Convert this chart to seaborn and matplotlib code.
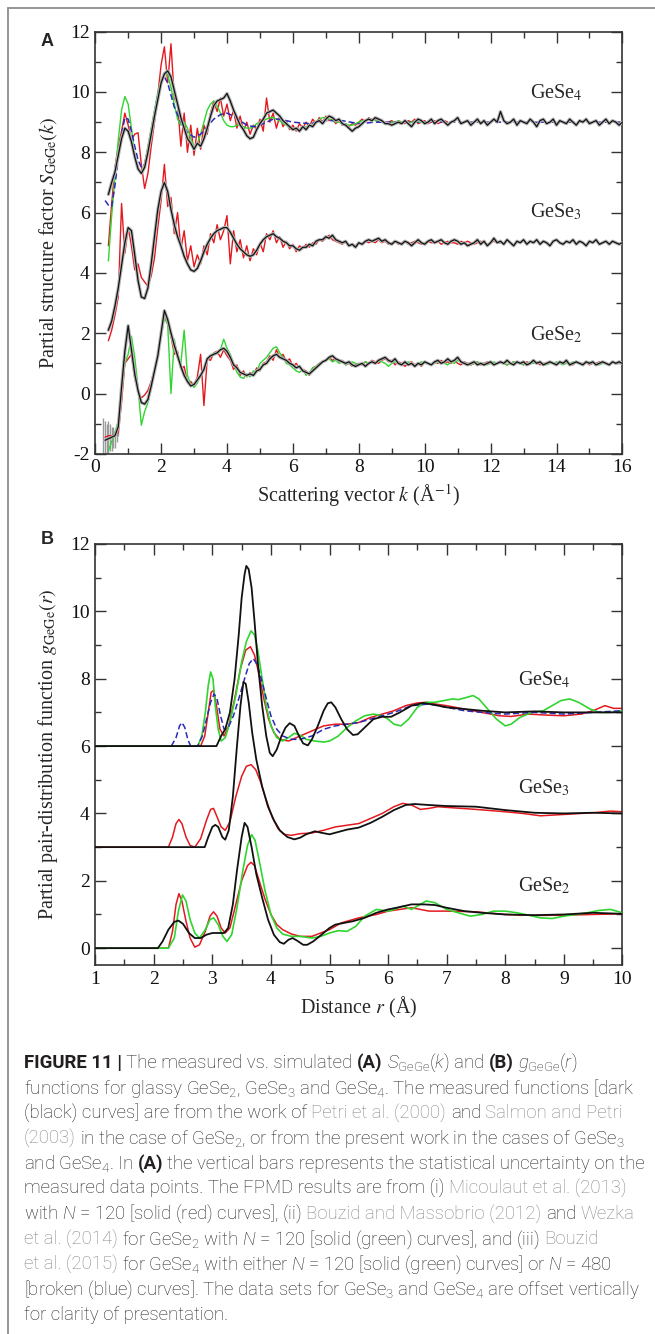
import numpy as np
import matplotlib
matplotlib.use("Agg")
import matplotlib.pyplot as plt
import seaborn as sns
from matplotlib.ticker import MultipleLocator
from matplotlib.lines import Line2D

# ---------------- Panel A : S_GeGe(k), sampled every 0.1 A^-1 ----------------
KSTEP = 0.1
k0_blk4 = 0.4
S_blk4 = [6.6, 7.0, 7.35, 7.9, 8.45, 8.8, 8.7, 8.35, 7.85, 7.45,
          7.3, 7.5, 8.0, 8.6, 9.2, 9.75, 10.3, 10.6, 10.7, 10.5,
          10.05, 9.6, 9.15, 8.8, 8.45, 8.3, 8.1, 8.3, 8.2, 8.45,
          8.8, 9.2, 9.55, 9.7, 9.75, 9.8, 9.95, 9.7, 9.4, 9.15,
          8.9, 8.75, 8.55, 8.45, 8.5, 8.75, 8.95, 9.1, 9.3, 9.35,
          9.4, 9.3, 9.2, 9.05, 8.95, 8.85, 8.75, 8.8, 8.7, 8.85,
          8.75, 8.9, 8.85, 9.0, 9.05, 8.95, 9.1, 9.2, 9.15, 9.05,
          9.1, 8.95, 8.9, 8.8, 8.7, 8.8, 8.85, 8.95, 9.05, 9.1,
          9.05, 9.15, 9.1, 9.05, 8.95, 8.95, 8.9, 8.95, 9.0, 8.95,
          9.05, 8.95, 8.85, 9.0, 9.1, 9.05, 8.95, 9.0, 9.1, 8.95,
          9.05, 9.1, 9.0, 8.9, 9.0, 9.05, 9.15, 8.95, 9.0, 9.05,
          8.9, 9.0, 9.1, 8.95, 9.05, 8.9, 9.0, 9.1, 9.0, 9.35,
          9.05, 8.95, 9.0, 9.1, 8.9, 9.05, 9.0, 8.95, 9.1, 9.0,
          8.85, 9.05, 9.1, 8.95, 9.0, 9.1, 8.9, 9.05, 9.0, 8.95,
          9.1, 9.0, 8.9, 9.05, 9.0, 9.1, 8.95, 9.0, 9.05, 8.9,
          9.0, 9.1, 8.95, 9.05, 9.0, 8.9, 9.0]
k0_red4 = 0.4
S_red4 = [4.9, 6.3, 7.5, 8.2, 8.7, 9.3, 8.9, 8.4, 8.6, 8.65,
          7.6, 6.8, 7.3, 8.2, 9.0, 9.9, 10.9, 11.5, 10.3, 11.6,
          9.8, 9.6, 8.2, 9.3, 8.0, 8.9, 7.9, 8.8, 8.1, 8.9,
          8.6, 9.3, 9.7, 9.35, 9.8, 9.2, 9.6, 9.05, 9.4, 8.8,
          9.2, 8.7, 9.0, 8.6, 8.9, 8.75, 9.1, 8.7, 9.8, 9.0,
          9.3, 8.8, 9.2, 8.85, 9.05, 8.75, 8.9, 8.7, 8.95, 8.8,
          9.0, 8.85, 9.1, 8.95, 9.15, 9.0, 9.2, 9.05, 9.1, 8.95,
          9.05, 8.9, 8.95, 8.85, 8.95, 8.9, 9.0, 9.1, 9.0, 9.15,
          9.05, 9.1, 9.0, 9.05, 8.95, 9.0, 9.05, 8.95, 9.05, 9.0,
          8.95, 9.05, 9.0, 9.1, 8.95, 9.0, 9.05, 8.95, 9.0, 9.05,
          8.95, 9.0, 9.05, 9.0]
k0_grn4 = 0.4
S_grn4 = [4.4, 5.9, 7.2, 8.4, 9.4, 9.85, 9.6, 8.8, 7.95, 7.45,
          7.35, 7.6, 8.2, 8.8, 9.4, 10.0, 10.4, 10.65, 10.55, 10.15,
          9.6, 9.1, 8.9, 9.0, 8.8, 8.45, 8.2, 8.3, 8.6, 9.0,
          9.4, 9.6, 9.7, 9.55, 9.3, 9.05, 8.9, 8.85, 8.85, 8.9,
          8.9, 8.85, 8.8, 8.8, 8.85, 8.95, 9.0, 9.05, 9.1, 9.15,
          9.15, 9.1, 9.05, 8.95, 8.9, 8.8, 8.8, 8.75, 8.75, 8.8,
          8.85, 8.9, 8.95, 9.0, 9.1, 9.15, 9.15, 9.1, 9.05, 9.0,
          9.0, 8.95, 8.95, 8.9, 8.9, 8.95, 9.0, 9.05, 9.05, 9.1,
          9.1, 9.05, 9.05, 9.0, 8.95, 8.95, 9.0, 9.0, 9.05, 9.0,
          9.0, 8.95, 9.0, 9.05, 9.0, 9.0, 9.0]
k_blu4 = [0.3, 0.4, 0.5, 0.6, 0.7, 0.8, 0.9, 1.0, 1.1, 1.2, 1.3, 1.4, 1.5, 1.6,
          1.7, 1.8, 1.9, 2.0, 2.1, 2.2, 2.3, 2.4, 2.6, 2.8, 3.0, 3.2, 3.4, 3.6,
          3.8, 4.0, 4.2, 4.4, 4.6, 4.8, 5.0, 5.2, 5.4, 5.6, 5.8, 6.0, 6.5, 7.0,
          7.5, 8.0, 8.5, 9.0, 10.0, 11.0, 12.0, 13.0, 14.0, 15.0, 16.0]
S_blu4 = [6.4, 6.25, 6.2, 6.9, 7.8, 8.6, 9.15, 9.1, 8.7, 8.2, 7.75, 7.5, 7.6, 8.1,
          8.7, 9.3, 9.9, 10.35, 10.5, 10.3, 9.9, 9.5, 9.0, 8.65, 8.5, 8.6, 8.85, 9.1,
          9.25, 9.3, 9.2, 9.05, 8.9, 8.85, 8.9, 9.0, 9.1, 9.1, 9.05, 9.0, 8.95, 9.05,
          9.05, 8.95, 9.0, 9.0, 9.0, 9.0, 9.0, 9.0, 9.0, 9.0, 9.0]

k0_blk3 = 0.4
S_blk3 = [2.1, 2.4, 2.9, 3.5, 4.25, 5.0, 5.5, 5.4, 4.6, 3.75,
          3.2, 3.15, 3.5, 4.3, 5.2, 6.1, 6.7, 7.0, 6.7, 6.1,
          5.6, 5.2, 4.9, 4.55, 4.3, 4.1, 4.05, 4.15, 4.4, 4.7,
          4.95, 5.15, 5.3, 5.4, 5.45, 5.5, 5.5, 5.35, 5.15, 4.95,
          4.8, 4.7, 4.6, 4.55, 4.6, 4.75, 4.95, 5.1, 5.2, 5.25,
          5.3, 5.2, 5.15, 5.05, 5.0, 4.9, 4.9, 4.8, 4.75, 4.85,
          4.85, 4.95, 4.9, 5.05, 5.1, 5.1, 5.2, 5.15, 5.25, 5.1,
          5.05, 5.0, 5.05, 4.9, 4.95, 4.85, 5.0, 4.95, 5.05, 5.1,
          5.05, 5.1, 5.15, 5.05, 5.1, 5.0, 4.95, 5.05, 5.0, 4.95,
          5.05, 5.0, 4.9, 5.0, 5.1, 5.0, 4.95, 5.05, 5.1, 5.0,
          5.05, 5.1, 5.0, 4.95, 5.05, 5.1, 5.05, 4.95, 5.0, 4.9,
          4.95, 5.0, 5.1, 4.95, 5.05, 4.9, 5.0, 5.15, 5.0, 5.05,
          4.95, 5.1, 5.0, 4.9, 5.05, 5.0, 5.1, 4.95, 5.05, 5.0,
          5.1, 4.95, 5.05, 5.0, 4.9, 5.05, 5.1, 5.0, 4.95, 5.05,
          5.0, 5.1, 4.95, 5.05, 5.0, 4.9, 5.05, 5.0, 5.1, 4.95,
          5.0, 5.05, 4.95, 5.05, 5.0, 4.95, 5.0]
k0_red3 = 0.4
S_red3 = [1.75, 2.1, 2.6, 3.2, 6.3, 4.65, 5.5, 4.9, 4.1, 4.3,
          3.85, 3.7, 3.55, 3.9, 4.5, 5.5, 6.4, 7.6, 6.2, 6.5,
          5.3, 6.0, 4.8, 5.4, 4.4, 4.9, 4.2, 4.6, 4.3, 4.9,
          4.6, 5.3, 5.0, 5.6, 5.1, 5.4, 5.9, 4.3, 5.4, 4.7,
          5.1, 4.5, 4.9, 4.4, 4.8, 4.6, 5.0, 4.7, 5.3, 5.1,
          5.4, 5.0, 5.2, 4.85, 5.05, 4.8, 4.95, 4.7, 4.9, 4.8,
          4.95, 4.85, 5.0, 4.95, 5.1, 5.05, 5.15, 5.25, 5.1, 5.05,
          5.0, 4.95, 5.05, 4.9, 4.95, 4.9, 5.0, 4.95, 5.05, 5.0,
          5.05, 5.0, 5.1, 5.0, 5.05, 4.95, 5.0, 5.05, 4.95, 5.0,
          5.05, 4.95, 5.0, 5.05, 5.0, 4.95, 5.0, 5.05, 5.0, 5.0,
          5.05, 4.95, 5.0, 5.05, 5.0, 5.0, 4.95, 5.05, 5.0, 5.05,
          5.0, 4.95, 5.0, 5.05, 5.0, 4.95, 5.0, 5.05, 5.0, 5.0,
          5.0]

k0_blk2 = 0.3
S_blk2 = [-1.55, -1.5, -1.45, -1.4, -1.1, 0.2, 1.4, 2.25, 1.45, 0.65,
          0.1, -0.3, -0.35, -0.2, 0.25, 0.75, 1.25, 2.0, 2.75, 2.45,
          2.0, 1.6, 1.25, 0.9, 0.6, 0.4, 0.25, 0.3, 0.45, 0.6,
          0.8, 1.15, 1.25, 1.3, 1.35, 1.45, 1.5, 1.4, 1.2, 0.95,
          0.85, 0.7, 0.65, 0.6, 0.65, 0.6, 0.75, 0.8, 0.95, 1.0,
          1.15, 1.25, 1.3, 1.2, 1.15, 1.1, 1.0, 0.95, 0.85, 0.9,
          0.75, 0.7, 0.65, 0.75, 0.85, 0.95, 1.05, 1.1, 1.2, 1.25,
          1.15, 1.1, 1.05, 1.0, 1.05, 0.95, 0.9, 0.95, 1.0, 0.9,
          1.0, 1.05, 1.0, 1.1, 1.15, 1.2, 1.1, 1.05, 1.15, 1.0,
          0.95, 1.05, 0.95, 1.0, 0.9, 1.0, 0.95, 1.05, 1.0, 0.95,
          1.05, 1.1, 1.0, 1.05, 1.15, 1.05, 1.1, 1.2, 1.05, 1.0,
          0.95, 1.0, 1.05, 0.95, 1.0, 0.95, 1.0, 1.05, 0.95, 1.0,
          1.05, 1.0, 1.1, 1.0, 0.95, 1.05, 1.0, 1.05, 0.95, 1.0,
          1.1, 1.0, 1.05, 0.95, 1.0, 1.05, 1.0, 0.95, 1.05, 1.0,
          1.1, 0.95, 1.0, 1.05, 1.0, 0.95, 1.05, 1.0, 1.05, 0.95,
          1.0, 1.05, 1.0, 0.95, 1.05, 1.0, 1.05, 1.0]
k0_red2 = 0.3
S_red2 = [-1.45, -1.4, -1.4, -1.35, -1.3, -0.3, 1.0, 1.15, 1.3, 0.5,
          0.1, -0.15, -0.05, 0.1, 0.4, 0.8, 1.3, 2.0, 2.55, 2.3,
          1.9, 1.3, 1.4, 0.8, 0.9, 0.35, 0.4, 0.25, 0.55, 1.3,
          -0.4, 1.15, 1.1, 1.35, 1.4, 1.2, 1.45, 1.25, 1.1, 0.8,
          0.95, 0.6, 0.75, 0.55, 0.7, 0.6, 0.85, 0.75, 1.0, 1.05,
          1.25, 1.1, 1.45, 1.2, 1.3, 1.05, 1.15, 0.9, 1.0, 0.85,
          0.8, 0.75, 0.6, 0.85, 0.9, 1.0, 1.05, 1.1, 1.2, 1.1,
          1.15, 1.05, 1.1, 0.95, 1.0, 0.9, 0.95, 1.0, 0.95, 1.05,
          1.0, 1.1, 1.05, 1.0, 1.1, 1.15, 1.05, 1.1, 0.95, 1.05,
          1.0, 0.9, 1.0, 1.05, 0.95, 1.0, 0.9, 1.05, 1.0, 0.95,
          1.05, 1.0, 1.1, 1.0, 1.05, 1.0, 1.1, 1.0, 0.95, 1.05,
          1.0, 0.95, 1.0, 1.05, 0.95, 1.0, 1.05, 1.0, 0.95, 1.0,
          1.05, 1.0, 0.95, 1.0, 1.05, 1.0, 1.0, 0.95, 1.05, 1.0,
          1.0, 1.05, 0.95, 1.0, 1.0, 1.05, 1.0, 0.95, 1.0, 1.05,
          1.0, 1.0, 0.95, 1.05, 1.0, 1.0, 1.05, 0.95, 1.0, 1.0,
          1.05, 1.0, 1.0]
k0_grn2 = 0.4
S_grn2 = [-1.9, -1.6, -1.3, -0.9, 0.1, 1.0, 1.3, 1.9, 1.2, 0.2,
          -1.05, -0.6, -0.3, 0.2, 0.7, 1.3, 1.9, 2.5, 2.3, 0.0,
          1.8, 1.2, 1.0, 2.1, 0.6, 0.3, 0.2, 0.35, 0.6, 0.8,
          1.1, 1.25, 1.35, 1.3, 1.45, 1.8, 1.5, 1.3, 1.0, 0.7,
          0.55, 0.5, 0.65, 0.55, 0.75, 0.7, 1.0, 1.1, 1.2, 1.35,
          1.5, 1.55, 1.35, 1.2, 1.0, 0.95, 0.85, 0.75, 0.7, 0.8,
          0.6, 0.7, 0.85, 0.9, 1.0, 1.05, 1.1, 1.15, 1.05, 1.1,
          1.0, 1.05, 0.95, 1.0, 1.05, 1.0, 0.95, 1.0, 1.05, 1.0,
          1.05, 1.0, 1.1, 1.05, 1.0, 0.9, 1.0, 1.05, 1.0, 0.95,
          1.0, 1.05, 1.0, 0.95, 1.0, 1.05, 1.0, 1.0, 0.95, 1.0,
          1.05, 1.0, 1.0, 0.95, 1.05, 1.0, 1.1, 1.05, 1.0, 1.0,
          0.95, 1.0, 1.05, 1.0, 1.0, 0.95, 1.0, 1.05, 1.0, 1.0,
          1.0, 0.95, 1.0, 1.05, 1.0, 1.0, 0.95, 1.0, 1.05, 1.0,
          1.0, 1.05, 1.0, 0.95, 1.0, 1.0, 1.05, 1.0, 0.95, 1.0,
          1.0, 1.05, 1.0, 1.0, 0.95, 1.0, 1.05, 1.0, 1.0, 0.95,
          1.0, 1.0]
# statistical uncertainty bars of the measured GeSe2 data at low k
err_k2 = [0.25, 0.3, 0.35, 0.4, 0.45, 0.5, 0.55, 0.6, 0.65, 0.7]
err_lo2 = [-2.0, -2.0, -2.0, -2.0, -1.9, -1.9, -1.8, -1.8, -1.6, -1.4]
err_hi2 = [-0.8, -0.9, -1.0, -0.9, -1.0, -1.1, -1.1, -1.2, -1.0, -0.8]

# ---------------- Panel B : g_GeGe(r) as (r, g) pairs ----------------
g4_black = [[1.0, 6.0], [3.07, 6.0], [3.15, 6.3], [3.22, 6.5], [3.3, 7.0], [3.38, 8.0], [3.45, 9.3],
            [3.5, 10.4], [3.55, 11.1], [3.58, 11.35], [3.62, 11.25], [3.67, 10.7], [3.72, 9.7],
            [3.78, 8.4], [3.85, 7.2], [3.92, 6.3], [3.98, 5.8], [4.03, 5.7], [4.1, 5.9], [4.18, 6.3],
            [4.25, 6.55], [4.32, 6.68], [4.4, 6.6], [4.48, 6.3], [4.55, 6.08], [4.63, 6.02], [4.7, 6.2],
            [4.8, 6.6], [4.9, 7.05], [4.97, 7.27], [5.03, 7.3], [5.1, 7.15], [5.2, 6.8], [5.3, 6.5],
            [5.4, 6.33], [5.48, 6.35], [5.6, 6.55], [5.75, 6.8], [5.9, 6.87], [6.05, 6.87], [6.2, 7.0],
            [6.4, 7.2], [6.6, 7.28], [6.8, 7.22], [7.0, 7.15], [7.3, 7.1], [7.6, 7.05], [8.0, 7.0],
            [8.5, 7.03], [9.0, 7.0], [9.5, 7.0], [10.0, 7.0]]
g4_green = [[1.0, 6.0], [2.75, 6.0], [2.82, 6.3], [2.88, 7.0], [2.93, 7.8], [2.97, 8.2], [3.01, 8.0],
            [3.05, 7.2], [3.1, 6.5], [3.15, 6.15], [3.22, 6.25], [3.3, 6.7], [3.4, 7.5], [3.5, 8.5],
            [3.58, 9.1], [3.66, 9.42], [3.72, 9.3], [3.78, 8.8], [3.85, 8.0], [3.92, 7.2], [4.0, 6.6],
            [4.1, 6.25], [4.2, 6.15], [4.3, 6.25], [4.4, 6.38], [4.5, 6.32], [4.6, 6.2], [4.75, 6.15],
            [4.9, 6.12], [5.0, 6.15], [5.15, 6.3], [5.3, 6.55], [5.45, 6.75], [5.6, 6.9], [5.75, 6.95],
            [5.9, 6.9], [6.0, 6.8], [6.1, 6.65], [6.22, 6.6], [6.35, 6.8], [6.5, 7.15], [6.65, 7.3],
            [6.8, 7.3], [6.95, 7.35], [7.1, 7.4], [7.2, 7.38], [7.35, 7.45], [7.45, 7.5], [7.55, 7.4],
            [7.7, 7.1], [7.85, 6.8], [8.0, 6.6], [8.1, 6.65], [8.25, 6.85], [8.45, 7.0], [8.65, 7.05],
            [8.8, 7.2], [8.95, 7.35], [9.1, 7.4], [9.25, 7.3], [9.45, 7.1], [9.6, 7.0], [9.8, 7.0],
            [10.0, 7.05]]
g4_red = [[1.0, 6.0], [2.8, 6.0], [2.87, 6.3], [2.93, 7.0], [2.98, 7.6], [3.02, 7.65], [3.07, 7.2],
          [3.13, 6.5], [3.2, 6.3], [3.28, 6.6], [3.38, 7.4], [3.48, 8.3], [3.57, 8.85], [3.65, 8.95],
          [3.72, 8.7], [3.8, 8.1], [3.88, 7.4], [3.96, 6.8], [4.05, 6.4], [4.15, 6.2], [4.3, 6.15],
          [4.5, 6.3], [4.7, 6.45], [4.9, 6.6], [5.1, 6.65], [5.3, 6.65], [5.5, 6.7], [5.7, 6.85],
          [5.9, 6.95], [6.1, 7.05], [6.3, 7.2], [6.5, 7.28], [6.65, 7.3], [6.8, 7.25], [7.0, 7.2],
          [7.3, 7.1], [7.6, 7.0], [7.9, 6.9], [8.1, 6.88], [8.4, 6.95], [8.7, 6.92], [9.0, 6.9],
          [9.3, 6.95], [9.5, 7.05], [9.7, 7.2], [9.85, 7.12], [10.0, 7.12]]
g4_blue = [[2.3, 6.0], [2.38, 6.25], [2.44, 6.6], [2.48, 6.7], [2.53, 6.55], [2.58, 6.2], [2.63, 6.0],
           [2.75, 6.0], [2.83, 6.3], [2.9, 6.8], [2.97, 7.3], [3.03, 7.55], [3.08, 7.4], [3.14, 6.9],
           [3.2, 6.5], [3.27, 6.55], [3.36, 6.9], [3.45, 7.4], [3.55, 8.0], [3.63, 8.45], [3.7, 8.6],
           [3.77, 8.4], [3.85, 7.9], [3.93, 7.35], [4.0, 6.9], [4.1, 6.5], [4.2, 6.3], [4.35, 6.2],
           [4.5, 6.2], [4.7, 6.3], [4.9, 6.5], [5.1, 6.6], [5.3, 6.65], [5.5, 6.7], [5.8, 6.85],
           [6.1, 7.0], [6.4, 7.2], [6.7, 7.25], [7.0, 7.15], [7.3, 7.05], [7.6, 7.0], [8.0, 6.95],
           [8.5, 7.0], [9.0, 6.95], [9.5, 7.0], [10.0, 7.05]]
g3_black = [[1.0, 3.0], [2.87, 3.0], [2.93, 3.3], [3.0, 3.6], [3.05, 3.66], [3.1, 3.6], [3.17, 3.3],
            [3.22, 3.22], [3.28, 3.5], [3.35, 4.5], [3.42, 6.0], [3.48, 7.2], [3.53, 7.9], [3.57, 7.85],
            [3.62, 7.3], [3.68, 6.4], [3.75, 5.6], [3.85, 4.8], [3.95, 4.2], [4.05, 3.8], [4.15, 3.5],
            [4.28, 3.3], [4.4, 3.23], [4.5, 3.28], [4.6, 3.38], [4.75, 3.47], [4.85, 3.43], [5.0, 3.38],
            [5.15, 3.45], [5.3, 3.52], [5.5, 3.58], [5.7, 3.72], [5.9, 3.9], [6.1, 4.1], [6.3, 4.25],
            [6.45, 4.28], [6.7, 4.25], [7.0, 4.22], [7.5, 4.2], [8.0, 4.1], [8.5, 4.02], [9.0, 4.0],
            [9.5, 4.02], [10.0, 4.0]]
g3_red = [[1.0, 3.0], [2.25, 3.0], [2.32, 3.3], [2.38, 3.7], [2.43, 3.82], [2.48, 3.7], [2.55, 3.3],
          [2.62, 3.05], [2.7, 3.0], [2.8, 3.25], [2.9, 3.8], [2.97, 4.12], [3.02, 4.15], [3.08, 3.9],
          [3.15, 3.6], [3.22, 3.5], [3.3, 3.75], [3.4, 4.5], [3.5, 5.1], [3.58, 5.4], [3.66, 5.45],
          [3.74, 5.3], [3.82, 4.95], [3.92, 4.4], [4.02, 3.9], [4.12, 3.55], [4.22, 3.38], [4.35, 3.35],
          [4.5, 3.4], [4.7, 3.42], [4.9, 3.5], [5.1, 3.6], [5.3, 3.65], [5.5, 3.7], [5.7, 3.85],
          [5.9, 4.0], [6.1, 4.2], [6.25, 4.3], [6.4, 4.25], [6.55, 4.12], [6.7, 4.15], [6.85, 4.2],
          [7.0, 4.18], [7.5, 4.12], [8.0, 4.05], [8.3, 4.0], [8.6, 3.93], [9.0, 3.97], [9.5, 4.02],
          [9.8, 4.07], [10.0, 4.05]]
g2_black = [[1.0, 0.0], [2.07, 0.0], [2.15, 0.2], [2.25, 0.55], [2.35, 0.78], [2.42, 0.82], [2.5, 0.72],
            [2.6, 0.45], [2.7, 0.3], [2.8, 0.3], [2.9, 0.4], [3.0, 0.45], [3.1, 0.45], [3.2, 0.45],
            [3.27, 0.6], [3.35, 1.3], [3.42, 2.3], [3.5, 3.3], [3.55, 3.72], [3.6, 3.6], [3.67, 3.0],
            [3.75, 2.2], [3.85, 1.5], [3.95, 0.85], [4.05, 0.4], [4.15, 0.18], [4.22, 0.13], [4.3, 0.25],
            [4.37, 0.3], [4.45, 0.22], [4.55, 0.1], [4.62, 0.1], [4.72, 0.2], [4.85, 0.38], [5.0, 0.6],
            [5.1, 0.7], [5.25, 0.75], [5.4, 0.8], [5.6, 0.9], [5.8, 1.05], [6.0, 1.15], [6.2, 1.22],
            [6.4, 1.3], [6.6, 1.3], [6.8, 1.28], [7.0, 1.2], [7.3, 1.1], [7.6, 1.05], [8.0, 1.0],
            [8.5, 0.98], [9.0, 1.0], [9.5, 1.05], [10.0, 1.02]]
g2_red = [[1.0, 0.0], [2.25, 0.0], [2.32, 0.5], [2.38, 1.3], [2.43, 1.62], [2.48, 1.4], [2.55, 0.8],
          [2.62, 0.3], [2.7, 0.03], [2.78, 0.1], [2.88, 0.5], [2.96, 0.95], [3.02, 1.08], [3.08, 0.95],
          [3.15, 0.6], [3.22, 0.45], [3.3, 0.6], [3.4, 1.3], [3.5, 2.0], [3.6, 2.45], [3.66, 2.55],
          [3.72, 2.45], [3.8, 2.0], [3.9, 1.45], [4.0, 1.0], [4.1, 0.7], [4.2, 0.55], [4.35, 0.42],
          [4.5, 0.35], [4.7, 0.35], [4.85, 0.45], [5.0, 0.55], [5.2, 0.75], [5.5, 0.9], [5.8, 1.0],
          [6.0, 1.1], [6.2, 1.15], [6.4, 1.2], [6.55, 1.15], [6.7, 1.1], [7.0, 1.1], [7.5, 1.08],
          [8.0, 1.0], [8.5, 0.97], [9.0, 0.98], [9.5, 1.0], [10.0, 1.02]]
g2_green = [[1.0, 0.0], [2.25, 0.0], [2.35, 0.3], [2.42, 1.1], [2.49, 1.58], [2.55, 1.4], [2.62, 0.85],
            [2.7, 0.45], [2.78, 0.3], [2.88, 0.55], [2.96, 0.85], [3.02, 0.9], [3.1, 0.7], [3.18, 0.35],
            [3.25, 0.2], [3.33, 0.4], [3.42, 1.2], [3.52, 2.3], [3.6, 3.05], [3.67, 3.37], [3.73, 3.2],
            [3.8, 2.6], [3.9, 1.7], [4.0, 1.0], [4.1, 0.6], [4.2, 0.42], [4.35, 0.35], [4.5, 0.35],
            [4.7, 0.3], [4.85, 0.35], [5.0, 0.45], [5.15, 0.52], [5.3, 0.5], [5.45, 0.65], [5.6, 0.95],
            [5.8, 1.15], [6.0, 1.1], [6.1, 1.15], [6.25, 1.25], [6.4, 1.15], [6.55, 1.3], [6.65, 1.4],
            [6.8, 1.35], [7.0, 1.15], [7.2, 1.05], [7.4, 0.95], [7.6, 1.0], [7.8, 1.1], [8.0, 1.1],
            [8.2, 1.05], [8.4, 0.98], [8.6, 0.9], [8.8, 0.88], [9.0, 0.95], [9.2, 1.0], [9.4, 1.05],
            [9.6, 1.12], [9.8, 1.15], [10.0, 1.05]]

labels_A = ["GeSe$_4$", "GeSe$_3$", "GeSe$_2$"]
labels_A_pos = [(13.2, 9.8), (13.2, 5.84), (13.2, 1.78)]
labels_B_pos = [(8.22, 7.79), (8.22, 4.59), (8.22, 1.70)]

caption = [
    [("FIGURE 11 |", "b"), (" The measured vs. simulated ", "n"), ("(A)", "b"),
     (" $S_{\\mathrm{GeGe}}(k)$ and ", "n"), ("(B)", "b"), (" $g_{\\mathrm{GeGe}}(r)$", "n")],
    [("functions for glassy GeSe$_2$, GeSe$_3$ and GeSe$_4$. The measured functions [dark", "n")],
    [("(black) curves] are from the work of ", "n"), ("Petri et al. (2000)", "g"), (" and ", "n"),
     ("Salmon and Petri", "g")],
    [("(2003)", "g"), (" in the case of GeSe$_2$, or from the present work in the cases of GeSe$_3$", "n")],
    [("and GeSe$_4$. In ", "n"), ("(A)", "b"),
     (" the vertical bars represents the statistical uncertainty on the", "n")],
    [("measured data points. The FPMD results are from (i) ", "n"), ("Micoulaut et al. (2013)", "g")],
    [("with $N$ = 120 [solid (red) curves], (ii) ", "n"), ("Bouzid and Massobrio (2012)", "g"),
     (" and ", "n"), ("Wezka", "g")],
    [("et al. (2014)", "g"), (" for GeSe$_2$ with $N$ = 120 [solid (green) curves], and (iii) ", "n"),
     ("Bouzid", "g")],
    [("et al. (2015)", "g"), (" for GeSe$_4$ with either $N$ = 120 [solid (green) curves] or $N$ = 480", "n")],
    [("[broken (blue) curves]. The data sets for GeSe$_3$ and GeSe$_4$ are offset vertically", "n")],
    [("for clarity of presentation.", "n")],
]

# ---------------- styling ----------------
sns.set_theme(style="ticks")
plt.rcParams.update({
    "font.family": ["Liberation Serif", "DejaVu Serif"],
    "mathtext.fontset": "stix",
    "mathtext.rm": "Roboto:light",
    "mathtext.it": "Roboto:italic:light",
    "mathtext.bf": "Roboto:bold",
    "axes.unicode_minus": False,
})

RED, GREEN, BLUE, BLACK, HALO = "#e3191e", "#2fd62f", "#2a2ab8", "#111111", "#b4b4b4"
W, H = 655, 1334
fig = plt.figure(figsize=(W / 100, H / 100), dpi=100)
fig.patch.set_facecolor("white")

axA = fig.add_axes([95.2 / W, 1 - 453.8 / H, 527.2 / W, 422.1 / H])
axB = fig.add_axes([95.2 / W, 1 - 965 / H, 527.2 / W, 421 / H])


def kgrid(k0, vals):
    return np.round(k0 + KSTEP * np.arange(len(vals)), 2)


def line(ax, x, y, color, lw, ls="-", z=2):
    sns.lineplot(x=np.asarray(x), y=np.asarray(y), ax=ax, color=color, lw=lw, linestyle=ls,
                 estimator=None, sort=False, legend=False, zorder=z)


# Panel A
axA.vlines(err_k2, err_lo2, err_hi2, color="#999999", lw=1.0, zorder=1)
for k0, S in [(k0_red4, S_red4), (k0_red3, S_red3), (k0_red2, S_red2)]:
    line(axA, kgrid(k0, S), S, RED, 1.0, z=2)
for k0, S in [(k0_grn4, S_grn4), (k0_grn2, S_grn2)]:
    line(axA, kgrid(k0, S), S, GREEN, 1.0, z=3)
line(axA, k_blu4, S_blu4, BLUE, 1.1, ls=(0, (4, 2)), z=4)
for k0, S in [(k0_blk4, S_blk4), (k0_blk3, S_blk3), (k0_blk2, S_blk2)]:
    line(axA, kgrid(k0, S), S, HALO, 2.4, z=5)
    line(axA, kgrid(k0, S), S, BLACK, 0.9, z=6)

# Panel B
for data, col, lw, ls, z in [(g4_red, RED, 1.1, "-", 2), (g4_green, GREEN, 1.2, "-", 3),
                             (g4_blue, BLUE, 1.1, (0, (4, 2)), 4), (g4_black, BLACK, 1.3, "-", 5),
                             (g3_red, RED, 1.1, "-", 2), (g3_black, BLACK, 1.3, "-", 5),
                             (g2_red, RED, 1.1, "-", 2), (g2_green, GREEN, 1.2, "-", 3),
                             (g2_black, BLACK, 1.3, "-", 5)]:
    arr = np.array(data)
    line(axB, arr[:, 0], arr[:, 1], col, lw, ls=ls, z=z)


def style(ax, xlim, ylim, xmaj, xmin, ymaj, ymin):
    ax.set_xlim(*xlim)
    ax.set_ylim(*ylim)
    ax.xaxis.set_major_locator(MultipleLocator(xmaj))
    ax.xaxis.set_minor_locator(MultipleLocator(xmin))
    ax.yaxis.set_major_locator(MultipleLocator(ymaj))
    ax.yaxis.set_minor_locator(MultipleLocator(ymin))
    ax.tick_params(which="both", direction="in", top=True, right=True, labelsize=14,
                   color="#333333", labelcolor="#111111", pad=4)
    ax.tick_params(which="major", length=8, width=1.0)
    ax.tick_params(which="minor", length=4.5, width=1.0)
    for s in ax.spines.values():
        s.set_linewidth(1.2)
        s.set_color("#333333")
    ax.set_facecolor("white")
    ax.grid(False)


style(axA, (0, 16), (-2, 12), 2, 1, 2, 1)
style(axB, (1, 10), (-0.5, 12), 1, 0.5, 2, 1)

axA.set_xlabel("Scattering vector $k$ (Å$^{\\mathrm{-1}}$)", fontsize=14.5)
axA.set_ylabel("Partial structure factor $S_{\\mathrm{GeGe}}(k)$", fontsize=14.5)
axB.set_xlabel("Distance $r$ (Å)", fontsize=14.5)
axB.set_ylabel("Partial pair-distribution function $g_{\\mathrm{GeGe}}(r)$", fontsize=14.5)
for ax in (axA, axB):
    ax.xaxis.set_label_coords(0.5, -0.1)
    ax.xaxis.label.set_va("center")
    ax.yaxis.set_label_coords(-0.09, 0.5)
    ax.yaxis.label.set_va("center")

for txt, (x, y) in zip(labels_A, labels_A_pos):
    axA.text(x, y, txt, fontsize=14.5, ha="left", va="baseline", zorder=10)
for txt, (x, y) in zip(labels_A, labels_B_pos):
    axB.text(x, y, txt, fontsize=14.5, ha="left", va="baseline", zorder=10)

fig.text(46.8 / W, 1 - 41.7 / H, "A", fontsize=13, fontweight="bold",
         family=["Liberation Sans", "DejaVu Sans"], ha="center", va="center")
fig.text(46.8 / W, 1 - 540 / H, "B", fontsize=13, fontweight="bold",
         family=["Liberation Sans", "DejaVu Sans"], ha="center", va="center")

# outer frame
fig.add_artist(Line2D([7.5 / W, 7.5 / W], [0, 1 - 8 / H], transform=fig.transFigure,
                      color="#8c8c8c", lw=1.3))
fig.add_artist(Line2D([7.5 / W, 1], [1 - 8 / H, 1 - 8 / H], transform=fig.transFigure,
                      color="#8c8c8c", lw=1.3))

# caption
renderer = fig.canvas.get_renderer()
CAP = dict(fontsize=13.4, family=["Roboto", "DejaVu Sans"], math_fontfamily="custom")
styles = {"n": dict(color="#231f20", fontweight="light"),
          "b": dict(color="#231f20", fontweight="bold"),
          "g": dict(color="#858585", fontweight="light")}


def twidth(s, st):
    t = fig.text(0, 0, s, **CAP, **styles[st])
    w = t.get_window_extent(renderer=renderer).width
    t.remove()
    return w


space_w = twidth("a a", "n") - twidth("aa", "n")
y0, dy = 1063.0, 25.2
for i, segs in enumerate(caption):
    x = 23.8
    y = y0 + i * dy
    for s, st in segs:
        if s.startswith(" "):
            x += space_w
        core = s.strip(" ")
        t = fig.text(x / W, 1 - y / H, core, ha="left", va="center", **CAP, **styles[st])
        x += t.get_window_extent(renderer=renderer).width
        if s.endswith(" "):
            x += space_w

fig.savefig("out.png", dpi=100, facecolor="white")
